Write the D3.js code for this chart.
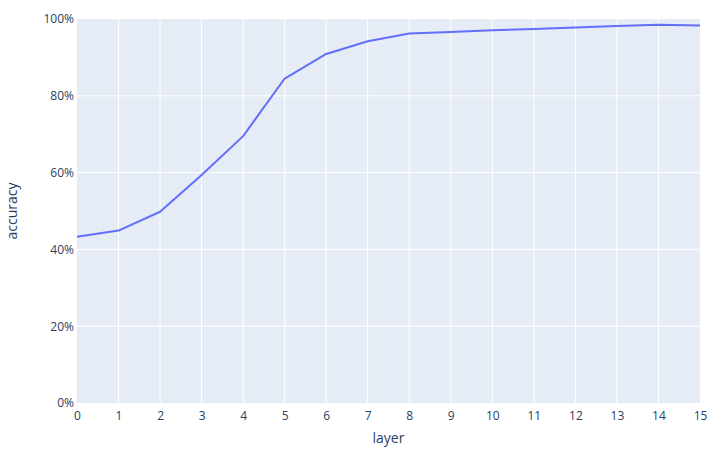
<!DOCTYPE html>
<html>
<head>
<meta charset="utf-8">
<style>
  body { margin: 0; background: #fff; }
  text { font-family: "Open Sans", sans-serif; fill: #2a3f5f; }
</style>
</head>
<body>
<script src="https://d3js.org/d3.v7.min.js"></script>
<script>
// data
var layers = [0, 1, 2, 3, 4, 5, 6, 7, 8, 9, 10, 11, 12, 13, 14, 15];
var accuracy = [0.433, 0.449, 0.498, 0.594, 0.695, 0.845, 0.909, 0.942, 0.962, 0.966, 0.971, 0.974, 0.978, 0.982, 0.985, 0.983];
var yTicks = [0, 0.2, 0.4, 0.6, 0.8, 1];

var width = 720, height = 459;
var margin = {top: 19, right: 20, bottom: 56, left: 77};

var svg = d3.select("body").append("svg")
  .attr("width", width)
  .attr("height", height);

var x = d3.scaleLinear().domain([0, 15]).range([margin.left, width - margin.right]);
var y = d3.scaleLinear().domain([0, 1]).range([height - margin.bottom, margin.top]);

// plot background
svg.append("rect")
  .attr("x", margin.left).attr("y", margin.top)
  .attr("width", x(15) - x(0)).attr("height", y(0) - y(1))
  .attr("fill", "#e5ecf6");

// grid
svg.append("g").selectAll("line").data(layers.slice(1, -1)).enter().append("line")
  .attr("x1", d => x(d)).attr("x2", d => x(d))
  .attr("y1", y(0)).attr("y2", y(1))
  .attr("stroke", "#fff").attr("stroke-width", 1);
svg.append("g").selectAll("line").data(yTicks.slice(1, -1)).enter().append("line")
  .attr("x1", x(0)).attr("x2", x(15))
  .attr("y1", d => y(d)).attr("y2", d => y(d))
  .attr("stroke", "#fff").attr("stroke-width", 1);

// axes
var xAxis = svg.append("g")
  .attr("transform", "translate(0," + y(0) + ")")
  .call(d3.axisBottom(x).tickValues(layers).tickFormat(d3.format("d")).tickSize(0).tickPadding(8));
var yAxis = svg.append("g")
  .attr("transform", "translate(" + x(0) + ",0)")
  .call(d3.axisLeft(y).tickValues(yTicks).tickFormat(d3.format(".0%")).tickSize(0).tickPadding(3));
[xAxis, yAxis].forEach(function(a) {
  a.select(".domain").remove();
  a.selectAll("text").style("font-size", "12px").attr("fill", "#2a3f5f").style("font-family", "Open Sans, sans-serif");
});

// line
var line = d3.line().x((d, i) => x(layers[i])).y(d => y(d));
svg.append("path")
  .datum(accuracy)
  .attr("d", line)
  .attr("fill", "none")
  .attr("stroke", "#636efa")
  .attr("stroke-width", 2)
  .attr("stroke-linejoin", "round");

// axis titles
svg.append("text")
  .attr("x", (x(0) + x(15)) / 2).attr("y", 443)
  .attr("text-anchor", "middle")
  .style("font-size", "14px")
  .text("layer");
svg.append("text")
  .attr("transform", "translate(17," + ((y(0) + y(1)) / 2) + ") rotate(-90)")
  .attr("text-anchor", "middle")
  .style("font-size", "14px")
  .text("accuracy");
</script>
</body>
</html>
